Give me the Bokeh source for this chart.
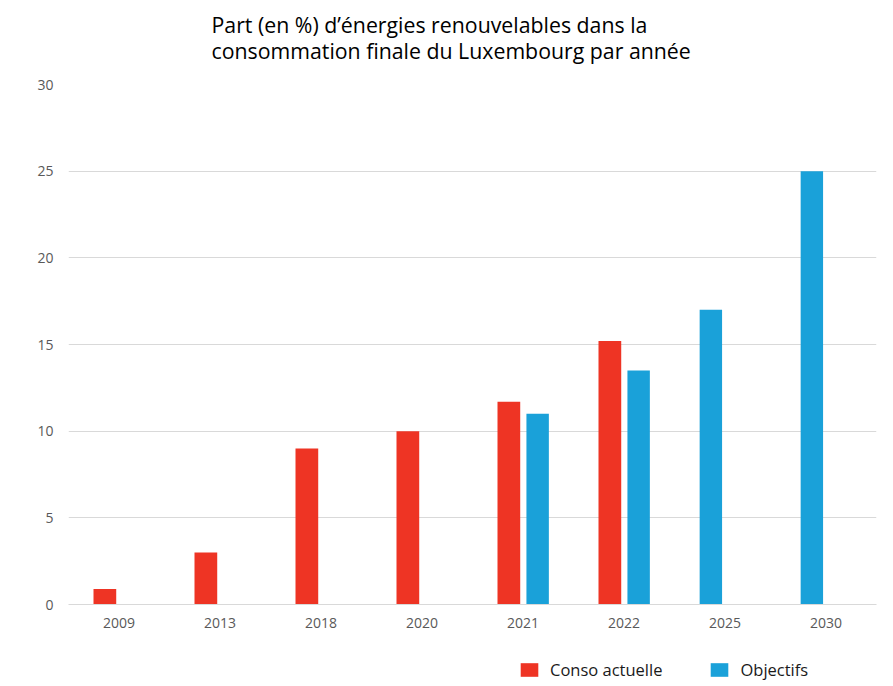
import numpy as np
from bokeh.plotting import figure
from bokeh.layouts import column
from bokeh.models import Range1d, FixedTicker, Legend, LegendItem, Label, ColumnDataSource
from bokeh.embed import file_html
from bokeh.resources import INLINE

years = ["2009", "2013", "2018", "2020", "2021", "2022", "2025", "2030"]
conso = [0.9, 3.0, 9.0, 10.0, 11.7, 15.2, np.nan, np.nan]
objectifs = [np.nan, np.nan, np.nan, np.nan, 11.0, 13.5, 17.0, 25.0]
y_ticks = [0, 5, 10, 15, 20, 25, 30]
title_lines = ["Part (en %) d\u2019énergies renouvelables dans la",
               "consommation finale du Luxembourg par année"]
series_names = ["Conso actuelle", "Objectifs"]

RED = "#EE3424"
BLUE = "#1AA1D9"
FONT = "Open Sans"
W = 885
BL, BR = 68, 9
FW = W - BL - BR  # frame width shared by all stacked figures

idx = np.arange(len(years)) + 0.5
conso_a = np.array(conso)
obj_a = np.array(objectifs)
has_red = ~np.isnan(conso_a)
has_blue = ~np.isnan(obj_a)
red_x = idx - 0.14
blue_x = np.where(has_red, idx + 0.145, idx - 0.14)

src_r = ColumnDataSource(dict(x=red_x[has_red], top=conso_a[has_red]))
src_b = ColumnDataSource(dict(x=blue_x[has_blue], top=obj_a[has_blue]))

# ---- title area (frame aligned with main chart frame) ----
tf = figure(width=W, height=76, output_backend="svg", toolbar_location=None,
            x_range=Range1d(0, FW), y_range=Range1d(76, 0),
            min_border_left=BL, min_border_right=BR, min_border_top=0, min_border_bottom=0)
tf.axis.visible = False
tf.grid.visible = False
tf.outline_line_color = None
for line, yb in zip(title_lines, [24, 50]):
    tf.add_layout(Label(x=143, y=yb, text=line, text_font=FONT, text_font_size="21.3px",
                        text_color="#000000", text_align="left", text_baseline="alphabetic"))

# ---- main chart ----
p = figure(width=W, height=564, output_backend="svg", toolbar_location=None,
           x_range=Range1d(0, len(years)), y_range=Range1d(0, 30),
           min_border_left=BL, min_border_right=BR, min_border_top=8, min_border_bottom=36)
p.outline_line_color = None

p.vbar(x="x", top="top", width=0.225, source=src_r, color=RED, line_color=None)
p.vbar(x="x", top="top", width=0.222, source=src_b, color=BLUE, line_color=None)

p.xgrid.grid_line_color = None
p.ygrid.grid_line_color = "#D9D9D9"
p.ygrid.ticker = FixedTicker(ticks=y_ticks)

p.yaxis.ticker = FixedTicker(ticks=y_ticks)
p.yaxis.axis_line_color = None
p.yaxis.major_tick_line_color = None
p.yaxis.minor_tick_line_color = None
p.yaxis.major_tick_out = 0
p.yaxis.major_tick_in = 0
p.yaxis.major_label_standoff = 15
p.yaxis.major_label_text_font = FONT
p.yaxis.major_label_text_font_size = "14px"
p.yaxis.major_label_text_color = "#595959"

p.xaxis.ticker = FixedTicker(ticks=list(idx))
p.xaxis.major_label_overrides = {float(v): y for v, y in zip(idx, years)}
p.xaxis.axis_line_color = "#D9D9D9"
p.xaxis.major_tick_line_color = None
p.xaxis.minor_tick_line_color = None
p.xaxis.major_tick_out = 0
p.xaxis.major_tick_in = 0
p.xaxis.major_label_standoff = 13
p.xaxis.major_label_text_font = FONT
p.xaxis.major_label_text_font_size = "14px"
p.xaxis.major_label_text_color = "#595959"

# ---- legend area: swatch-only renderers (no drawable rows) ----
lf = figure(width=W, height=46, output_backend="svg", toolbar_location=None,
            x_range=Range1d(0, 1), y_range=Range1d(0, 1),
            min_border_left=BL, min_border_right=BR, min_border_top=0, min_border_bottom=0)
lf.axis.visible = False
lf.grid.visible = False
lf.outline_line_color = None
lr = lf.vbar(x=[np.nan], top=[np.nan], width=0.1, color=RED, line_color=None)
lb = lf.vbar(x=[np.nan], top=[np.nan], width=0.1, color=BLUE, line_color=None)
legend = Legend(items=[LegendItem(label=series_names[0], renderers=[lr]),
                       LegendItem(label=series_names[1], renderers=[lb])],
                orientation="horizontal", location=(450, 5),
                glyph_width=22, glyph_height=17, label_height=17,
                label_text_font=FONT, label_text_font_size="16.5px", label_text_color="#1A1A1A",
                label_standoff=10, spacing=46, padding=0, margin=0,
                border_line_color=None, background_fill_alpha=0)
lf.add_layout(legend, "center")

layout = column(tf, p, lf, spacing=0)
open("out.html", "w").write(file_html(layout, INLINE))
